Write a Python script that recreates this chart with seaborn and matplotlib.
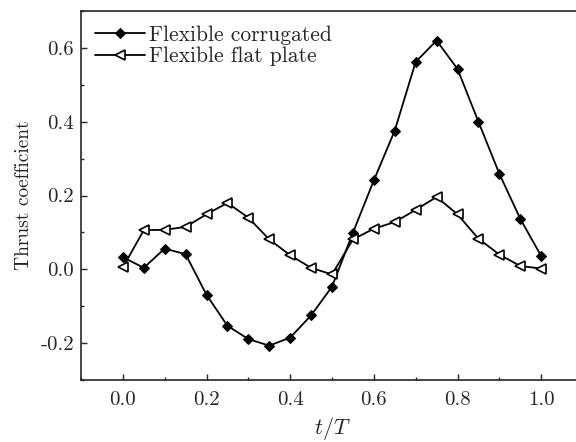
import matplotlib
matplotlib.use("Agg")
from matplotlib import pyplot as plt
from matplotlib.ticker import MultipleLocator
import numpy as np
import pandas as pd
import seaborn as sns

# t/T sample points
t_over_T = [0.0, 0.05, 0.1, 0.15, 0.2, 0.25, 0.3, 0.35, 0.4, 0.45, 0.5,
            0.55, 0.6, 0.65, 0.7, 0.75, 0.8, 0.85, 0.9, 0.95, 1.0]

# thrust coefficient, flexible corrugated wing
ct_corrugated = [0.033, 0.004, 0.056, 0.041, -0.069, -0.153, -0.189, -0.207,
                 -0.185, -0.125, -0.047, 0.099, 0.241, 0.376, 0.562, 0.620,
                 0.543, 0.400, 0.259, 0.137, 0.036]

# thrust coefficient, flexible flat plate
ct_flat = [0.005, 0.106, 0.107, 0.115, 0.149, 0.180, 0.140, 0.081, 0.038,
           0.004, -0.014, 0.081, 0.110, 0.128, 0.161, 0.196, 0.149, 0.083,
           0.040, 0.009, 0.002]

labels = ["Flexible corrugated", "Flexible flat plate"]

sns.set_style("ticks")
plt.rcParams['font.family'] = ['cmr10', 'DejaVu Serif']
plt.rcParams['mathtext.fontset'] = 'cm'
plt.rcParams['axes.unicode_minus'] = False
plt.rcParams['axes.formatter.use_mathtext'] = False

df = pd.DataFrame({'t': t_over_T, 'corr': ct_corrugated, 'flat': ct_flat})

fig = plt.figure(figsize=(5.76, 4.42), dpi=100)
# right edge of the frame sits just outside the figure, as in the reference
ax = fig.add_axes([81 / 576, 1 - 380 / 442, (583 - 81) / 576, (380 - 11) / 442])

sns.lineplot(data=df, x='t', y='corr', ax=ax, color='black', linewidth=1.3,
             marker='D', markersize=5.5, markerfacecolor='black',
             markeredgecolor='black', label=labels[0])
sns.lineplot(data=df, x='t', y='flat', ax=ax, color='black', linewidth=1.3,
             marker='<', markersize=7, markerfacecolor='white',
             markeredgecolor='black', markeredgewidth=1.2, label=labels[1])

ax.set_xlim(-0.1, 1.1)
ax.set_ylim(-0.3, 0.7)
ax.xaxis.set_major_locator(MultipleLocator(0.2))
ax.xaxis.set_minor_locator(MultipleLocator(0.1))
ax.yaxis.set_major_locator(MultipleLocator(0.2))
ax.yaxis.set_minor_locator(MultipleLocator(0.1))
ax.xaxis.set_major_formatter(lambda v, p: f"{v:.1f}")
ax.yaxis.set_major_formatter(lambda v, p: f"{v:.1f}")
ax.tick_params(which='both', direction='in', width=1.0, labelsize=15)
ax.tick_params(axis='y', pad=5)
ax.tick_params(axis='x', pad=8)
ax.tick_params(which='major', length=4)
ax.tick_params(which='minor', length=2.5)
for s in ax.spines.values():
    s.set_linewidth(1.2)

ax.set_xlabel(r"$t/T$", fontsize=16, labelpad=4)
ax.set_ylabel("Thrust coefficient", fontsize=14, labelpad=5, color='#222222')

ax.legend(loc='upper left', frameon=False, fontsize=15.5, handlelength=2.3,
          handletextpad=0.2, borderaxespad=0.25, labelspacing=0.1)

fig.savefig("out.png", dpi=100)
